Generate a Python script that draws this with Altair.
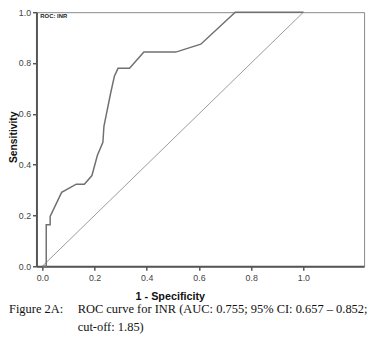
import altair as alt
import pandas as pd

# ROC curve points (1 - specificity, sensitivity)
fpr = [0.0, 0.015, 0.015, 0.030, 0.030, 0.074, 0.130, 0.161, 0.190, 0.211, 0.232, 0.236, 0.261, 0.276, 0.290, 0.334, 0.389, 0.511, 0.607, 0.739, 1.0]
tpr = [0.0, 0.0, 0.163, 0.163, 0.196, 0.291, 0.323, 0.323, 0.357, 0.437, 0.488, 0.551, 0.678, 0.748, 0.779, 0.779, 0.843, 0.843, 0.874, 1.0, 1.0]

ref_x = [0.0, 1.0]
ref_y = [0.0, 1.0]

tick_values = [0.0, 0.2, 0.4, 0.6, 0.8, 1.0]

caption_label = ["Figure 2A:"]
caption_lines = [
    "ROC curve for INR (AUC: 0.755; 95% CI: 0.657 \u2013 0.852;",
    "cut-off: 1.85)",
]

roc = pd.DataFrame({"x": fpr, "y": tpr, "i": list(range(len(fpr)))})
ref = pd.DataFrame({"x": ref_x, "y": ref_y, "i": [0, 1]})
label = pd.DataFrame({"t": ["ROC: INR"]})
cap_a = pd.DataFrame({"t": caption_label})
cap_b = pd.DataFrame({"t": [caption_lines[0]]})
cap_c = pd.DataFrame({"t": [caption_lines[1]]})

xscale = alt.Scale(domain=[-0.0225, 1.2325], nice=False, zero=False)
yscale = alt.Scale(domain=[0, 1], nice=False)

PAD_L = 29

xaxis = alt.Axis(
    title="1 - Specificity", values=tick_values, format=".1f",
    domainColor="#555", domainWidth=2, tickColor="#555", tickWidth=1.5, tickSize=4,
    labelFont="Liberation Sans", labelFontSize=9, labelColor="#444", labelPadding=4,
    titleFont="Liberation Sans", titleFontSize=11, titleFontWeight="bold", titleColor="#111",
    titleX=136, titleY=25, titleAnchor="middle", grid=False,
)
yaxis = alt.Axis(
    title="Sensitivity", values=tick_values, format=".1f",
    domainColor="#555", domainWidth=2, tickColor="#555", tickWidth=1.5, tickSize=4,
    labelFont="Liberation Sans", labelFontSize=9, labelColor="#444", labelPadding=2,
    titleFont="Liberation Sans", titleFontSize=10.5, titleFontWeight="bold", titleColor="#111",
    titleX=-23.5, titleY=127, titleAnchor="middle", titleBaseline="middle", grid=False,
)

diag = alt.Chart(ref).mark_line(color="#9a9a9a", strokeWidth=1).encode(
    x=alt.X("x:Q", scale=xscale, axis=xaxis),
    y=alt.Y("y:Q", scale=yscale, axis=yaxis),
    order="i:Q",
)
curve = alt.Chart(roc).mark_line(color="#707070", strokeWidth=1.5).encode(
    x=alt.X("x:Q", scale=xscale),
    y=alt.Y("y:Q", scale=yscale),
    order="i:Q",
)
txt = alt.Chart(label).mark_text(
    font="Liberation Sans", fontSize=6, fontWeight="bold", color="#222",
    align="left", baseline="top",
).encode(x=alt.value(4), y=alt.value(1), text="t:N")

cap_style = dict(font="Liberation Serif", fontSize=12.7, color="#111",
                 align="left", baseline="middle")
c1 = alt.Chart(cap_a).mark_text(**cap_style).encode(
    x=alt.value(-PAD_L + 1), y=alt.value(303), text="t:N")
c2 = alt.Chart(cap_b).mark_text(**cap_style).encode(
    x=alt.value(42), y=alt.value(303), text="t:N")
c3 = alt.Chart(cap_c).mark_text(**cap_style).encode(
    x=alt.value(42), y=alt.value(321), text="t:N")

chart = alt.layer(diag, curve, txt, c1, c2, c3).properties(
    width=334, height=259,
    autosize=alt.AutoSizeParams(type="none"),
    padding={"left": PAD_L, "top": 1, "right": 5, "bottom": 78},
).configure_view(stroke="#888", strokeWidth=1)

chart.save("out.html", embed_options={"renderer": "svg", "actions": False})
